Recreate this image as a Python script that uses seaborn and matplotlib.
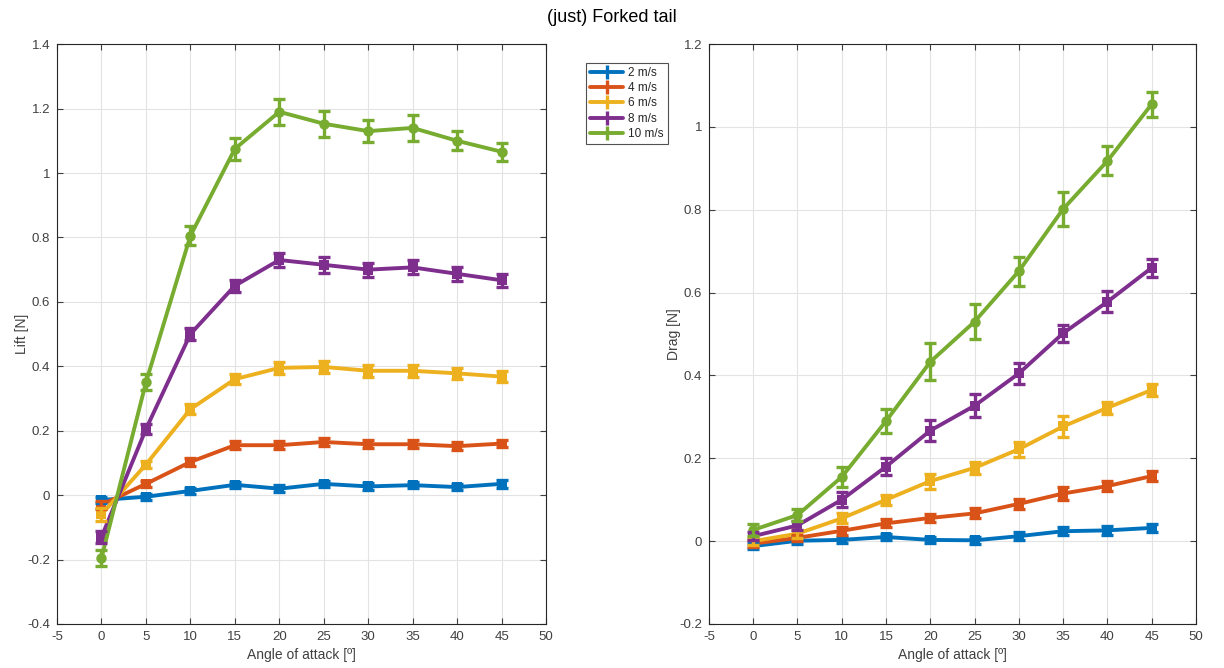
import numpy as np
import pandas as pd
import matplotlib
matplotlib.use("Agg")
import matplotlib.pyplot as plt
import seaborn as sns
from matplotlib.lines import Line2D

angles = [0, 5, 10, 15, 20, 25, 30, 35, 40, 45]
speeds = ["2 m/s", "4 m/s", "6 m/s", "8 m/s", "10 m/s"]

lift_2 = [-0.015, -0.005, 0.013, 0.032, 0.020, 0.035, 0.027, 0.031, 0.025, 0.035]
lift_4 = [-0.030, 0.035, 0.103, 0.155, 0.155, 0.165, 0.158, 0.158, 0.152, 0.160]
lift_6 = [-0.060, 0.095, 0.267, 0.360, 0.395, 0.398, 0.386, 0.386, 0.378, 0.368]
lift_8 = [-0.130, 0.205, 0.500, 0.650, 0.730, 0.715, 0.700, 0.707, 0.687, 0.667]
lift_10 = [-0.195, 0.350, 0.805, 1.075, 1.190, 1.153, 1.130, 1.140, 1.100, 1.066]

lift_err_2 = [0.010, 0.010, 0.010, 0.010, 0.010, 0.010, 0.010, 0.010, 0.010, 0.012]
lift_err_4 = [0.012, 0.010, 0.012, 0.012, 0.012, 0.012, 0.012, 0.012, 0.012, 0.012]
lift_err_6 = [0.020, 0.012, 0.015, 0.015, 0.018, 0.018, 0.018, 0.018, 0.018, 0.018]
lift_err_8 = [0.020, 0.015, 0.018, 0.018, 0.022, 0.025, 0.022, 0.022, 0.022, 0.020]
lift_err_10 = [0.025, 0.025, 0.030, 0.035, 0.040, 0.040, 0.035, 0.040, 0.030, 0.028]

drag_2 = [-0.012, 0.001, 0.003, 0.010, 0.003, 0.002, 0.012, 0.024, 0.026, 0.032]
drag_4 = [-0.006, 0.008, 0.025, 0.043, 0.056, 0.067, 0.090, 0.115, 0.133, 0.157]
drag_6 = [0.000, 0.018, 0.055, 0.100, 0.145, 0.177, 0.222, 0.277, 0.322, 0.365]
drag_8 = [0.012, 0.038, 0.100, 0.180, 0.267, 0.327, 0.405, 0.502, 0.578, 0.660]
drag_10 = [0.027, 0.063, 0.155, 0.290, 0.433, 0.530, 0.652, 0.802, 0.918, 1.055]

drag_err_2 = [0.008, 0.008, 0.008, 0.008, 0.008, 0.008, 0.010, 0.010, 0.010, 0.010]
drag_err_4 = [0.008, 0.008, 0.010, 0.010, 0.010, 0.012, 0.012, 0.015, 0.012, 0.012]
drag_err_6 = [0.010, 0.010, 0.012, 0.012, 0.018, 0.015, 0.018, 0.025, 0.015, 0.015]
drag_err_8 = [0.010, 0.010, 0.018, 0.020, 0.025, 0.028, 0.025, 0.020, 0.025, 0.022]
drag_err_10 = [0.015, 0.015, 0.025, 0.030, 0.045, 0.042, 0.035, 0.040, 0.035, 0.030]

colors = ["#0072BD", "#D95319", "#EDB120", "#7E2F8E", "#77AC30"]
markers = ["s", "s", "s", "s", "o"]

lift = [lift_2, lift_4, lift_6, lift_8, lift_10]
lift_err = [lift_err_2, lift_err_4, lift_err_6, lift_err_8, lift_err_10]
drag = [drag_2, drag_4, drag_6, drag_8, drag_10]
drag_err = [drag_err_2, drag_err_4, drag_err_6, drag_err_8, drag_err_10]


def long_frame(values, errors):
    rows = []
    for s, v, e in zip(speeds, values, errors):
        for a, vi, ei in zip(angles, v, e):
            rows.append({"angle": a, "value": vi, "err": ei, "speed": s})
    return pd.DataFrame(rows)


sns.set_theme(style="whitegrid")
plt.rcParams["font.family"] = ["Liberation Sans", "DejaVu Sans"]
plt.rcParams["axes.unicode_minus"] = False

fig = plt.figure(figsize=(12.24, 6.68), dpi=100)
ax1 = fig.add_axes([0.0466, 0.0659, 0.3995, 0.868])
ax2 = fig.add_axes([0.5792, 0.0659, 0.3979, 0.868])

palette = dict(zip(speeds, colors))
marker_map = dict(zip(speeds, markers))
text_grey = "#404040"


def draw(ax, values, errors, ylim, yticks, ylabel):
    df = long_frame(values, errors)
    sns.lineplot(data=df, x="angle", y="value", hue="speed", style="speed",
                 palette=palette, markers=marker_map, dashes=False,
                 linewidth=2.8, markersize=7.5, markeredgewidth=0,
                 legend=False, ax=ax, zorder=3)
    for s in speeds:
        sub = df[df["speed"] == s]
        ax.errorbar(sub["angle"], sub["value"], yerr=sub["err"], fmt="none",
                    ecolor=palette[s], elinewidth=2.4, capsize=4.2,
                    capthick=2.4, zorder=3)
    ax.set_xlim(-5, 50)
    ax.set_xticks(np.arange(-5, 51, 5))
    ax.set_ylim(*ylim)
    ax.set_yticks(yticks)
    ax.set_yticklabels([("%g" % t) for t in yticks])
    ax.set_xlabel("Angle of attack [º]", fontsize=10, color=text_grey, labelpad=4)
    ax.set_ylabel(ylabel, fontsize=10, color=text_grey, labelpad=-1)
    ax.tick_params(axis="both", labelsize=9.5, colors=text_grey, direction="in",
                   length=4, width=0.8, pad=5)
    ax.tick_params(axis="both", which="both", top=True, right=True,
                   bottom=True, left=True)
    ax.grid(True, color="#e3e3e3", linewidth=0.8)
    ax.set_facecolor("white")
    for sp in ax.spines.values():
        sp.set_visible(True)
        sp.set_color("#262626")
        sp.set_linewidth(0.8)


draw(ax1, lift, lift_err, (-0.4, 1.4), np.round(np.arange(-0.4, 1.41, 0.2), 1), "Lift [N]")
draw(ax2, drag, drag_err, (-0.2, 1.2), np.round(np.arange(-0.2, 1.21, 0.2), 1), "Drag [N]")

handles = [Line2D([0], [0], color=c, lw=2.8, marker="|", markersize=10, markeredgewidth=2.4)
           for c in colors]
leg = fig.legend(handles, speeds, loc="upper left", bbox_to_anchor=(0.474, 0.915),
                 frameon=True, fancybox=False, fontsize=8.5, handlelength=2.8,
                 handletextpad=0.4, borderpad=0.35, labelspacing=0.28)
leg.get_frame().set_edgecolor("#262626")
leg.get_frame().set_linewidth(0.8)
for t in leg.get_texts():
    t.set_color("#262626")

fig.suptitle("(just) Forked tail", fontsize=13, y=0.987, color="#000000")

fig.savefig("out.png", dpi=100, facecolor="white")
